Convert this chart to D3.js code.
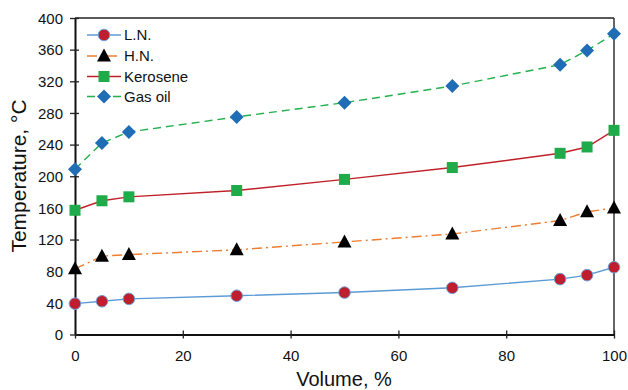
<!DOCTYPE html>
<html><head><meta charset="utf-8">
<script src="https://cdn.jsdelivr.net/npm/d3@7"></script>
<style>body{margin:0;background:#fff}svg{display:block;font-family:"Liberation Sans",Arial,sans-serif}</style>
</head><body><svg id="c" width="628" height="390"></svg>
<script>
const volume = [0, 5, 10, 30, 50, 70, 90, 95, 100];
const ln = [39, 42, 45, 49, 53, 59, 70, 75, 85];
const hn = [83, 99, 101, 107, 117, 127, 144, 155, 160];
const kerosene = [157, 169, 174, 182, 196, 211, 229, 237, 258];
const gasOil = [209, 242, 256, 275, 293, 314, 341, 359, 380];
const seriesNames = ["L.N.", "H.N.", "Kerosene", "Gas oil"];
const xTicks = [0, 20, 40, 60, 80, 100];
const yTicks = [0, 40, 80, 120, 160, 200, 240, 280, 320, 360, 400];

const styles = [
  {line:"#5b9bd5", dash:null, shape:"circle", fill:"#be1e2d", stroke:"#6fa3d8"},
  {line:"#ed7d31", dash:"10,4,2,4", shape:"triangle", fill:"#000", stroke:"none"},
  {line:"#c0202a", dash:null, shape:"square", fill:"#1fab4a", stroke:"none"},
  {line:"#22b14c", dash:"8,5", shape:"diamond", fill:"#1f6db5", stroke:"none"}
];
const data = [ln, hn, kerosene, gasOil];

const svg = d3.select("#c");
const L = 75, R = 614, T = 18, B = 334.5;
const x = d3.scaleLinear().domain([0, 100]).range([L, R]);
const y = d3.scaleLinear().domain([0, 400]).range([B, T]);

// frame
svg.append("line").attr("x1", L).attr("x2", R).attr("y1", T).attr("y2", T).attr("stroke", "#222").attr("stroke-width", 1.5);
svg.append("line").attr("x1", R).attr("x2", R).attr("y1", T).attr("y2", B).attr("stroke", "#333").attr("stroke-width", 1.5);

const xAxis = svg.append("g").attr("transform", `translate(0,${B})`)
  .call(d3.axisBottom(x).tickValues(xTicks).tickSize(4).tickSizeOuter(0));
xAxis.selectAll(".tick line").attr("y1", -4).attr("y2", 4).attr("stroke", "#222").attr("stroke-width", 1.3);
xAxis.select(".domain").attr("stroke", "#111").attr("stroke-width", 2);
xAxis.selectAll("text").attr("font-size", 15).attr("fill", "#111").attr("dy", "0").attr("y", 26);

const yAxis = svg.append("g").attr("transform", `translate(${L},0)`)
  .call(d3.axisLeft(y).tickValues(yTicks).tickSize(4).tickSizeOuter(0));
yAxis.selectAll(".tick line").attr("x1", -5).attr("x2", 4).attr("stroke", "#222").attr("stroke-width", 1.3);
yAxis.select(".domain").attr("stroke", "#111").attr("stroke-width", 2);
yAxis.selectAll("text").attr("font-size", 15).attr("fill", "#111").attr("x", -12).attr("dy", "0.35em");

svg.append("text").attr("x", 344).attr("y", 386).attr("text-anchor", "middle")
  .attr("font-size", 20).attr("fill", "#111").text("Volume, %");
svg.append("text").attr("transform", "translate(26,176) rotate(-90)").attr("text-anchor", "middle")
  .attr("font-size", 21).attr("fill", "#111").text("Temperature, °C");

function marker(g, shape, st) {
  let m;
  if (shape === "circle") m = g.append("circle").attr("r", 5.8);
  else if (shape === "square") m = g.append("rect").attr("x", -5.5).attr("y", -5.5).attr("width", 11).attr("height", 11);
  else if (shape === "triangle") m = g.append("path").attr("d", "M0,-7.5L7,5.5L-7,5.5Z");
  else m = g.append("path").attr("d", "M0,-7L7,0L0,7L-7,0Z");
  m.attr("fill", st.fill).attr("stroke", st.stroke).attr("stroke-width", st.stroke === "none" ? 0 : 1);
  return m;
}

const line = d3.line().x(d => x(d[0])).y(d => y(d[1]));
data.forEach((vals, i) => {
  const st = styles[i];
  const pts = volume.map((v, j) => [v, vals[j]]);
  svg.append("path").datum(pts).attr("d", line).attr("fill", "none")
    .attr("stroke", st.line).attr("stroke-width", 1.4).attr("stroke-dasharray", st.dash);
  pts.forEach(p => {
    const g = svg.append("g").attr("transform", `translate(${x(p[0])},${y(p[1])})`);
    marker(g, st.shape, st);
  });
});

// legend
const legY = [35, 56, 76.5, 96.5];
seriesNames.forEach((name, i) => {
  const st = styles[i];
  const g = svg.append("g").attr("transform", `translate(0,${legY[i]})`);
  g.append("line").attr("x1", 87).attr("x2", 121).attr("stroke", st.line).attr("stroke-width", 1.4)
    .attr("stroke-dasharray", st.dash);
  const mg = g.append("g").attr("transform", "translate(104,0)");
  marker(mg, st.shape, st);
  g.append("text").attr("x", 124).attr("y", 0).attr("dy", "0.35em").attr("font-size", 15).attr("fill", "#111").text(name);
});
</script></body></html>
